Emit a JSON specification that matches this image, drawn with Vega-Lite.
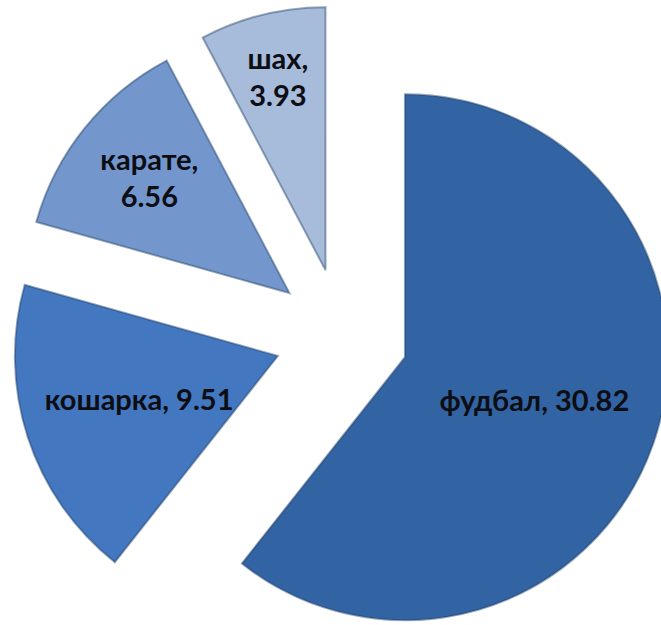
{
  "$schema": "https://vega.github.io/schema/vega-lite/v6.json",
  "width": 661,
  "height": 625,
  "padding": 0,
  "autosize": {"type": "none"},
  "background": "white",
  "config": {"view": {"stroke": null}},
  "data": {
    "values": [
      {"name": "фудбал", "value": 30.82},
      {"name": "кошарка", "value": 9.51},
      {"name": "карате", "value": 6.56},
      {"name": "шах", "value": 3.93}
    ]
  },
  "transform": [
    {"window": [{"op": "sum", "field": "value", "as": "cum"}], "sort": [{"field": "value", "order": "descending"}], "frame": [null, 0]},
    {"joinaggregate": [{"op": "sum", "field": "value", "as": "total"}]},
    {"calculate": "(datum.cum - datum.value) / datum.total", "as": "f0"},
    {"calculate": "datum.cum / datum.total", "as": "f1"},
    {"calculate": "datum.value / datum.total", "as": "frac"},
    {"calculate": "PI * (datum.f0 + datum.f1)", "as": "mid"},
    {"calculate": "0.2548 * sin(datum.mid)", "as": "ex"},
    {"calculate": "0.2548 * cos(datum.mid)", "as": "ey"},
    {"calculate": "datum.frac > 0.5 ? 0.521 : (datum.frac > 0.15 ? 0.555 : (datum.frac > 0.1 ? 0.685 : 0.753))", "as": "lr"},
    {"calculate": "datum.frac < 0.15", "as": "twoLines"},
    {"calculate": "datum.ex + datum.lr * sin(datum.mid)", "as": "lx"},
    {"calculate": "datum.ey + datum.lr * cos(datum.mid) + (datum.twoLines ? 0.07 : 0)", "as": "ly"},
    {"calculate": "datum.twoLines ? datum.name + ',\\n' + format(datum.value, '.2f') : datum.name + ', ' + format(datum.value, '.2f')", "as": "label"}
  ],
  "layer": [
    {
      "mark": {"type": "arc", "radius": 263, "stroke": "#1f3d66", "strokeOpacity": 0.45, "strokeWidth": 2},
      "encoding": {
        "theta": {"field": "f0", "type": "quantitative", "stack": null, "scale": {"domain": [0, 1]}},
        "theta2": {"field": "f1"},
        "x": {"field": "ex", "type": "quantitative", "axis": null, "scale": {"domain": [-1.2989, 1.2144], "zero": false, "nice": false}},
        "y": {"field": "ey", "type": "quantitative", "axis": null, "scale": {"domain": [-1.1019, 1.2745], "zero": false, "nice": false}},
        "color": {
          "field": "name",
          "type": "nominal",
          "legend": null,
          "scale": {"domain": ["фудбал", "кошарка", "карате", "шах"], "range": ["#3263a2", "#4377bf", "#7397cd", "#a7bbdb"]}
        }
      }
    },
    {
      "mark": {"type": "text", "font": "Lato", "fontWeight": "bold", "fontSize": 29, "color": "#0d0d14", "align": "center", "baseline": "middle", "lineBreak": "\n", "lineHeight": 37},
      "encoding": {
        "x": {"field": "lx", "type": "quantitative"},
        "y": {"field": "ly", "type": "quantitative"},
        "text": {"field": "label", "type": "nominal"}
      }
    }
  ]
}
